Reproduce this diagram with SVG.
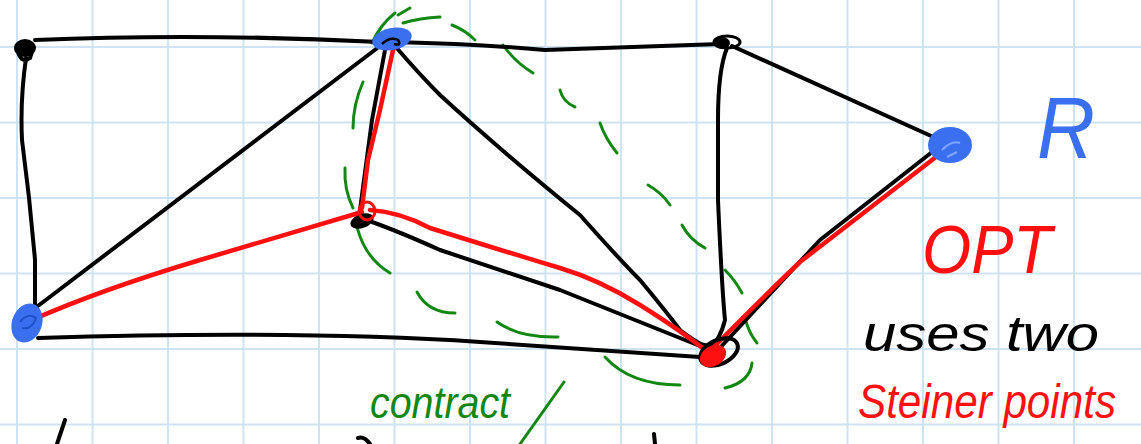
<svg xmlns="http://www.w3.org/2000/svg" width="1141" height="444" viewBox="0 0 1141 444">
<style>
.grid line{stroke:#cde3f2;stroke-width:2}
.e{fill:none;stroke:#000;stroke-width:4;stroke-linecap:round;stroke-linejoin:round}
.r{fill:none;stroke:#ff1010;stroke-width:4.5;stroke-linecap:round;stroke-linejoin:round}
.g{fill:none;stroke:#128712;stroke-width:3;stroke-linecap:round}
.t{font-family:"Liberation Sans",Arial,sans-serif;font-style:italic}
</style>
<rect width="1141" height="444" fill="#fff"/>
<g class="grid">
<line x1="17" y1="0" x2="17" y2="444"/><line x1="92.5" y1="0" x2="92.5" y2="444"/><line x1="168" y1="0" x2="168" y2="444"/><line x1="243.5" y1="0" x2="243.5" y2="444"/><line x1="319" y1="0" x2="319" y2="444"/><line x1="394.5" y1="0" x2="394.5" y2="444"/><line x1="470" y1="0" x2="470" y2="444"/><line x1="545.5" y1="0" x2="545.5" y2="444"/><line x1="621" y1="0" x2="621" y2="444"/><line x1="696.5" y1="0" x2="696.5" y2="444"/><line x1="772" y1="0" x2="772" y2="444"/><line x1="847.5" y1="0" x2="847.5" y2="444"/><line x1="923" y1="0" x2="923" y2="444"/><line x1="998.5" y1="0" x2="998.5" y2="444"/><line x1="1074" y1="0" x2="1074" y2="444"/>
<line x1="0" y1="47" x2="1141" y2="47"/><line x1="0" y1="122.5" x2="1141" y2="122.5"/><line x1="0" y1="198" x2="1141" y2="198"/><line x1="0" y1="273.5" x2="1141" y2="273.5"/><line x1="0" y1="349" x2="1141" y2="349"/><line x1="0" y1="424.5" x2="1141" y2="424.5"/>
</g>
<g id="contraction">
<path class="g" d="M372,43 Q380,25 395,13"/>
<path class="g" d="M398,15 L410,8"/>
<path class="g" d="M403,23 Q420,18 440,17"/>
<path class="g" d="M452,25 Q465,30 475,40"/>
<path class="g" d="M503,45 Q515,62 533,73"/>
<path class="g" d="M560,90 Q563,102 575,107"/>
<path class="g" d="M600,123 Q605,138 617,153"/>
<path class="g" d="M648,185 Q662,193 670,205"/>
<path class="g" d="M682,225 Q690,240 705,248"/>
<path class="g" d="M725,270 Q735,280 742,293"/>
<path class="g" d="M745,317 Q748,332 757,343"/>
<path class="g" d="M752,363 Q750,382 725,388"/>
<path class="g" d="M605,357 Q630,385 680,385"/>
<path class="g" d="M497,322 Q520,338 558,337"/>
<path class="g" d="M417,292 Q428,313 455,313"/>
<path class="g" d="M357,227 Q365,258 390,273"/>
<path class="g" d="M345,168 Q344,190 353,208"/>
<path class="g" d="M363,82 Q353,105 353,128"/>
</g>
<g id="connectors">
<path class="e" d="M35,40 Q200,33 380,42"/>
<path class="e" d="M26,58 Q20,100 22,140 Q30,200 35,260 L35,310"/>
<path class="e" d="M30,312 L380,46"/>
<path class="e" d="M38,338 Q300,330 480,342 L700,357"/>
<path class="e" d="M395,42 Q480,44 545,50 Q640,47 720,44"/>
<path class="e" d="M385,50 L372,120 L360,210"/>
<path class="e" d="M395,46 Q420,75 440,95 Q500,150 580,215 Q620,260 640,280 Q665,310 680,330 Q700,345 705,345"/>
<path class="e" d="M727,48 Q718,70 718,120 L718,200 Q722,290 725,320 Q720,340 710,347"/>
<path class="e" d="M732,46 L940,140"/>
<path class="e" d="M372,222 Q400,232 440,250 Q500,270 560,290 Q630,318 700,346"/>
<path class="e" d="M941,145 L820,240 L718,350"/>
<path class="r" d="M393,50 L380,110 L368,160 L362,208"/>
<path class="r" d="M362,212 Q300,230 200,260 Q100,290 32,320"/>
<path class="r" d="M370,210 Q400,212 430,228 Q500,250 560,268 Q600,280 640,305 Q680,330 705,350"/>
<path class="r" d="M708,353 Q760,300 800,262 Q880,200 945,150"/>
</g>
<g id="n1"><ellipse cx="25" cy="48" rx="11" ry="9" fill="#000"/><path class="e" d="M18,52 Q22,64 30,58 Q34,50 28,45" stroke-width="3"/></g>
<g id="n2"><ellipse cx="392" cy="39" rx="20" ry="11" transform="rotate(-12 392 39)" fill="#3a6ff0"/><path d="M382,44 Q390,36 398,40 Q402,46 394,44" fill="none" stroke="#000" stroke-width="2.5"/></g>
<g id="n3"><ellipse cx="722" cy="43" rx="8" ry="6" fill="#000"/><ellipse cx="727" cy="42" rx="13" ry="6" fill="none" stroke="#000" stroke-width="3"/></g>
<g id="n4"><ellipse cx="950" cy="145" rx="22" ry="18" fill="#3a6ff0"/><path d="M942,150 Q952,140 960,143 M947,157 L957,152" fill="none" stroke="#7fa5ff" stroke-width="2"/></g>
<g id="n5"><ellipse cx="27" cy="323" rx="15" ry="20" transform="rotate(20 27 323)" fill="#3a6ff0"/><path d="M20,322 Q28,312 36,318 Q32,330 22,328" fill="none" stroke="#1f4fc8" stroke-width="2"/></g>
<g id="n6"><ellipse cx="362" cy="221" rx="12" ry="7" fill="#000" transform="rotate(-20 362 221)"/><ellipse cx="367" cy="211" rx="8" ry="9" fill="none" stroke="#ff1010" stroke-width="3"/></g>
<g id="n7"><ellipse cx="719" cy="352" rx="20" ry="12" transform="rotate(-25 719 352)" fill="none" stroke="#000" stroke-width="4"/><ellipse cx="713" cy="356" rx="14" ry="10" transform="rotate(-30 713 356)" fill="#ff1010"/></g>
<g id="labels">
<text class="t" x="1037" y="158" font-size="88" fill="#3a6ff0" textLength="58" lengthAdjust="spacingAndGlyphs">R</text>
<text class="t" x="922" y="273" font-size="68" fill="#ff1010" textLength="130" lengthAdjust="spacingAndGlyphs">OPT</text>
<text class="t" x="863" y="351" font-size="50" fill="#000" textLength="236" lengthAdjust="spacingAndGlyphs">uses two</text>
<text class="t" x="858" y="418" font-size="48" fill="#ff1010" textLength="258" lengthAdjust="spacingAndGlyphs">Steiner points</text>
<text class="t" x="370" y="418" font-size="44" fill="#128712" textLength="140" lengthAdjust="spacingAndGlyphs">contract</text>
</g>
<g id="partial-strokes">
<path class="g" d="M564,382 L520,444"/>
<path class="e" d="M65,420 L57,444"/>
<path class="e" d="M358,438 Q364,436 370,444"/>
<path class="e" d="M654,434 L655,444"/>
</g>
</svg>
